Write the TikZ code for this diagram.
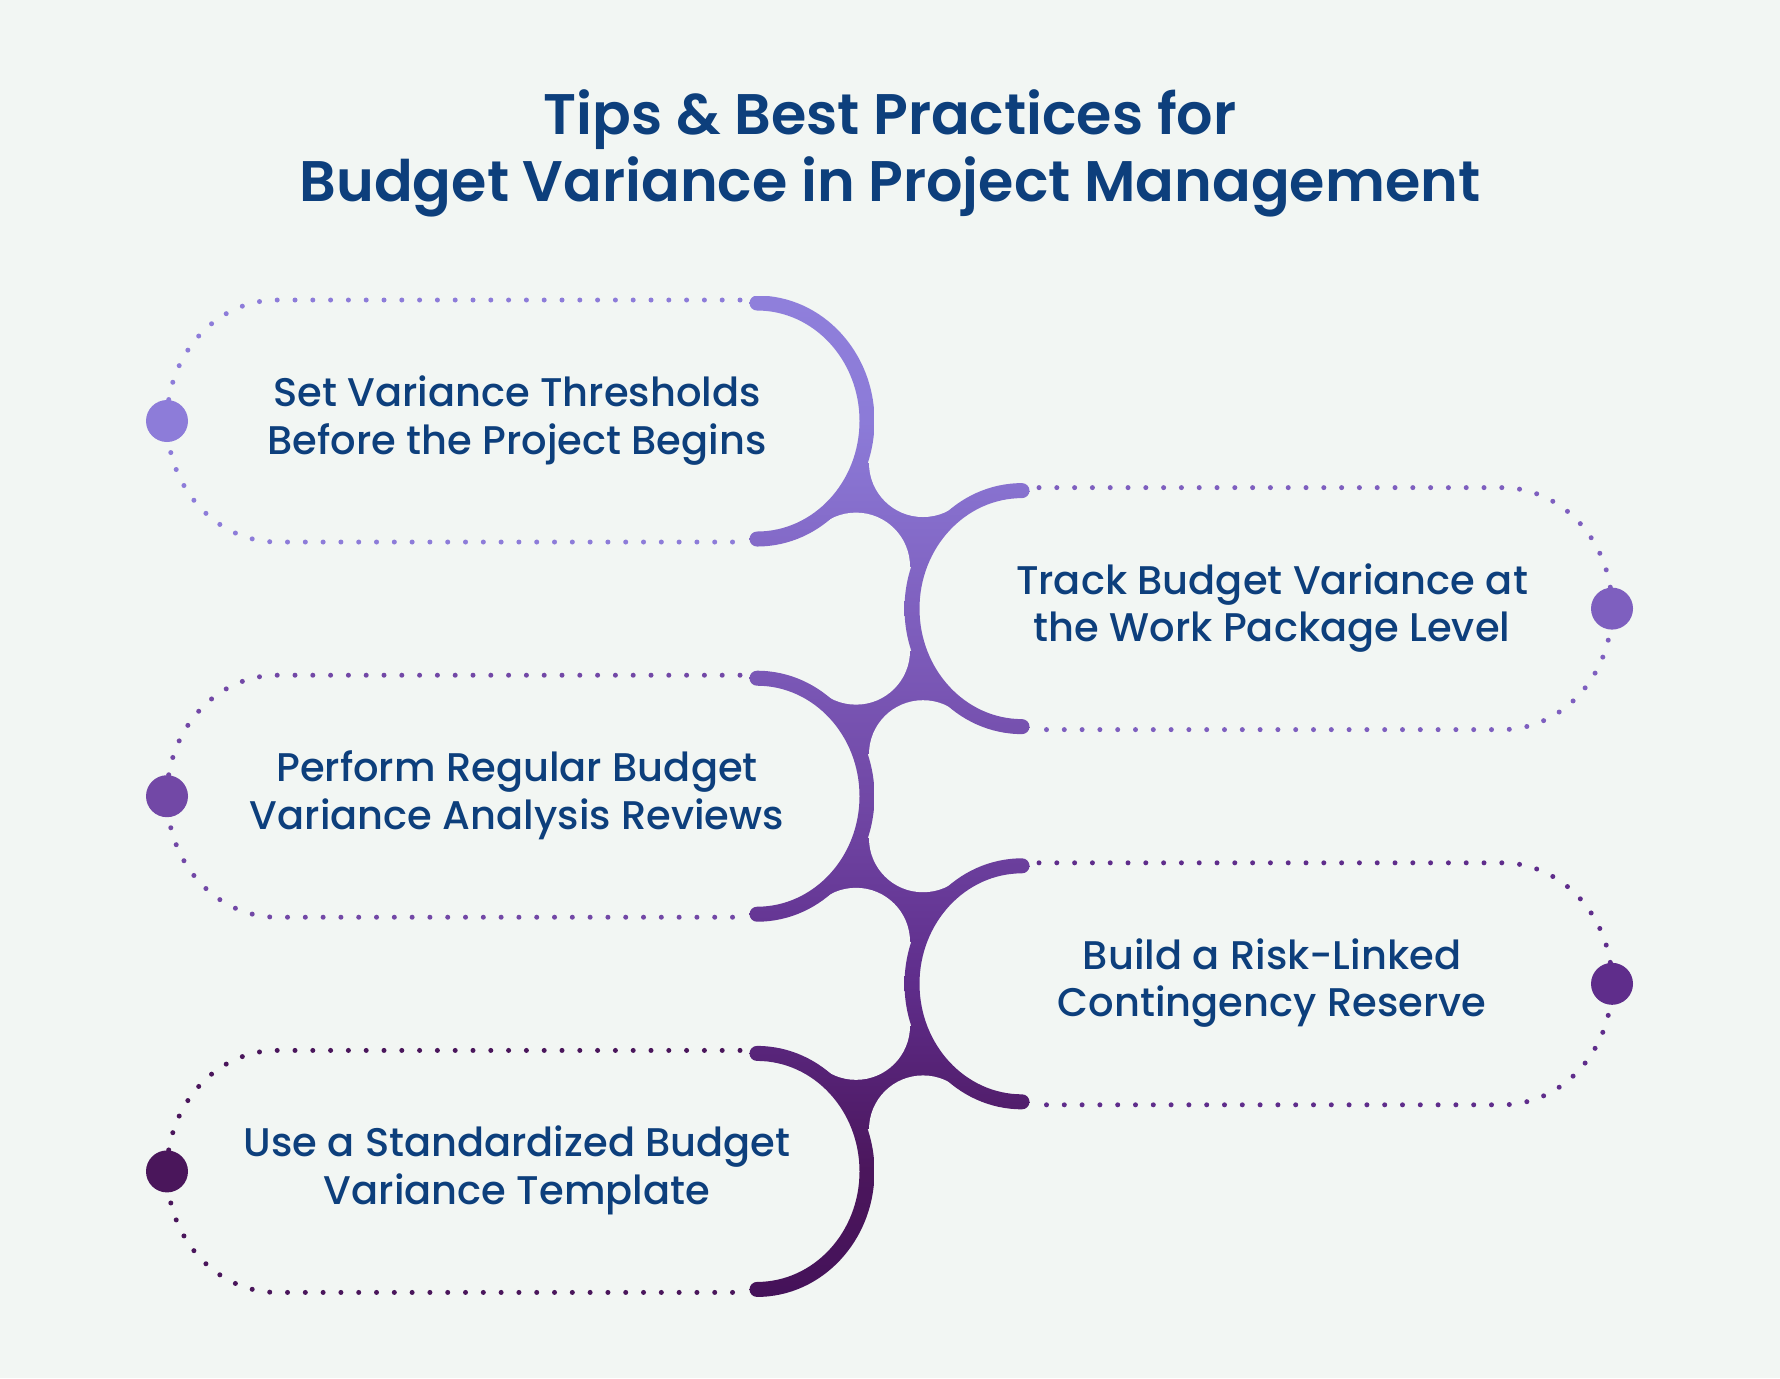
\documentclass[tikz,border=0pt]{standalone}
\usepackage{fontspec}
\setmainfont{Poppins}[UprightFont={* Medium}, BoldFont={* SemiBold}]
\definecolor{bg}{HTML}{F2F6F3}
\definecolor{txt}{HTML}{0D3F7C}
\definecolor{ca}{HTML}{8D7CD9}
\definecolor{cb}{HTML}{7E5FBF}
\definecolor{cc}{HTML}{7248A6}
\definecolor{cd}{HTML}{5F2D8B}
\definecolor{ce}{HTML}{4A165B}
\definecolor{s0}{HTML}{45125A}
\definecolor{s1}{HTML}{4B165C}
\definecolor{s2}{HTML}{5F2D8B}
\definecolor{s3}{HTML}{7148A6}
\definecolor{s4}{HTML}{7F60BF}
\definecolor{s5}{HTML}{8C7BD8}
\definecolor{s6}{HTML}{8F7FDB}
\pgfdeclareverticalshading{spine}{100bp}{color(0bp)=(s0); color(25bp)=(s0); color(31.25bp)=(s1); color(40.6bp)=(s2); color(50bp)=(s3); color(59.4bp)=(s4); color(68.75bp)=(s5); color(75bp)=(s6); color(100bp)=(s6)}
\tikzset{
  dotline/.style={line width=2.5pt, dash pattern=on 0pt off 8.9pt, line cap=round},
  itemtext/.style={anchor=base, text=txt, inner sep=0pt, font=\fontsize{20}{24}\selectfont},
  titletext/.style={anchor=base, text=txt, inner sep=0pt, font=\fontsize{28.6}{34}\selectfont\bfseries},
  hole/.style={fill=bg},
}
\newcommand{\spineshade}{\shade[shading=spine] (0,296) rectangle (1780,1296);}
\newcommand{\leftarcpath}[1]{(757,#1-125.5) arc[start angle=-90, end angle=90, x radius=117.5, y radius=125.5] arc[start angle=90, end angle=270, radius=7.5] arc[start angle=90, end angle=-90, x radius=102.5, y radius=110.5] arc[start angle=90, end angle=270, radius=7.5] -- cycle}
\newcommand{\rightarcpath}[1]{(1022,#1-125.5) arc[start angle=270, end angle=90, x radius=117.5, y radius=125.5] arc[start angle=90, end angle=-90, radius=7.5] arc[start angle=90, end angle=270, x radius=102.5, y radius=110.5] arc[start angle=90, end angle=-90, radius=7.5] -- cycle}
\begin{document}
\begin{tikzpicture}[x=0.5pt,y=-0.5pt]
\fill[bg] (0,0) rectangle (1780,1378);
\useasboundingbox (0,0) rectangle (1780,1378);
% spine junction fill
\begin{scope}
\clip (863.25,390.46) -- (958.91,511.94) arc[start angle=235, end angle=125, x radius=110, y radius=118]
  -- (958.91,887.14) arc[start angle=235, end angle=125, x radius=110, y radius=118]
  -- (863.25,1201.94) arc[start angle=15, end angle=-55, x radius=110, y radius=118]
  -- (820.09,892.86) arc[start angle=55, end angle=-55, x radius=110, y radius=118]
  -- (820.09,517.66) arc[start angle=55, end angle=-15, x radius=110, y radius=118] -- cycle;
\spineshade
\end{scope}
% holes (fillets)
\fill[hole] (856,566.6) circle (54);
\fill[hole] (856,650.6) circle (54);
\fill[hole] (700,566.6) rectangle (960,650.6);
\fill[hole] (856,941.8) circle (54);
\fill[hole] (856,1025.8) circle (54);
\fill[hole] (700,941.8) rectangle (960,1025.8);
\fill[hole] (923,463) circle (54);
\fill[hole] (840,150) rectangle (1100,463);
\fill[hole] (923,754.2) circle (54);
\fill[hole] (923,838.2) circle (54);
\fill[hole] (840,754.2) rectangle (1100,838.2);
\fill[hole] (923,1129.4) circle (54);
\fill[hole] (840,1129.4) rectangle (1100,1378);
% arcs
\begin{scope}\clip \leftarcpath{421}; \spineshade \end{scope}
\begin{scope}\clip \rightarcpath{608.6}; \spineshade \end{scope}
\begin{scope}\clip \leftarcpath{796.2}; \spineshade \end{scope}
\begin{scope}\clip \rightarcpath{983.8}; \spineshade \end{scope}
\begin{scope}\clip \leftarcpath{1171.4}; \spineshade \end{scope}
% dotted outlines
\draw[dotline, ca] (740,300) -- (277,300) arc[start angle=270, end angle=90, x radius=110, y radius=121] -- (740,542);
\draw[dotline, cb] (1039,487.6) -- (1502,487.6) arc[start angle=-90, end angle=90, x radius=110, y radius=121] -- (1039,729.6);
\draw[dotline, cc] (740,675.2) -- (277,675.2) arc[start angle=270, end angle=90, x radius=110, y radius=121] -- (740,917.2);
\draw[dotline, cd] (1039,862.8) -- (1502,862.8) arc[start angle=-90, end angle=90, x radius=110, y radius=121] -- (1039,1104.8);
\draw[dotline, ce] (740,1050.4) -- (277,1050.4) arc[start angle=270, end angle=90, x radius=110, y radius=121] -- (740,1292.4);
% end dots
\fill[ca] (167,421) circle (21);
\fill[cb] (1612,608.6) circle (21);
\fill[cc] (167,796.2) circle (21);
\fill[cd] (1612,983.8) circle (21);
\fill[ce] (167,1171.4) circle (21);
% title
\node[titletext] (title1) at (890,134) {Tips \& Best Practices for};
\node[titletext] (title2) at (890,201.7) {Budget Variance in Project Management};
% item texts
\node[itemtext] (t1a) at (517,406.5) {Set Variance Thresholds};
\node[itemtext] (t1b) at (517,454) {Before the Project Begins};
\node[itemtext] (t2a) at (1272,594) {Track Budget Variance at};
\node[itemtext] (t2b) at (1272,641.6) {the Work Package Level};
\node[itemtext] (t3a) at (517,781.7) {Perform Regular Budget};
\node[itemtext] (t3b) at (517,829.2) {Variance Analysis Reviews};
\node[itemtext] (t4a) at (1272,969.3) {Build a Risk-Linked};
\node[itemtext] (t4b) at (1272,1016.8) {Contingency Reserve};
\node[itemtext] (t5a) at (517,1156.9) {Use a Standardized Budget};
\node[itemtext] (t5b) at (517,1204.4) {Variance Template};
\end{tikzpicture}
\end{document}
